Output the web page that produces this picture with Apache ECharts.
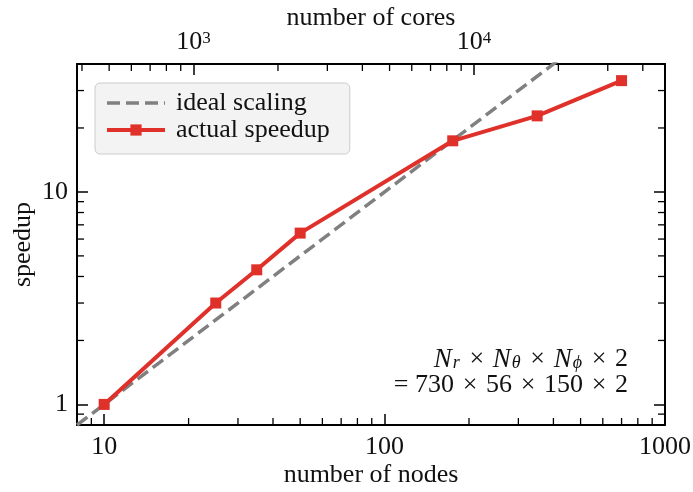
<!DOCTYPE html>
<html>
<head>
<meta charset="utf-8">
<script src="https://cdn.jsdelivr.net/npm/echarts@6/dist/echarts.min.js"></script>
<style>html,body{margin:0;padding:0;background:#fff}#c{width:693px;height:492px}</style>
</head>
<body>
<div id="c"></div>
<script>
// ---- data ----
const nodes = [10, 25, 35, 50, 175, 350, 700];
const speedup = [1.0, 3.0, 4.3, 6.4, 17.4, 22.8, 33.4];
const idealNodes = [8, 1000];
const idealSpeedup = [0.8, 100];
const coresPerNode = 48;

// axis ranges and ticks
const xMin = 8, xMax = 1000;
const yMin = 0.8, yMax = 40;
const xMajor = [10, 100, 1000];
const yMajor = [1, 10];
const coresMajor = [1000, 10000];
const xMinor = [9, 20, 30, 40, 50, 60, 70, 80, 90, 200, 300, 400, 500, 600, 700, 800, 900];
const yMinor = [0.9, 2, 3, 4, 5, 6, 7, 8, 9, 20, 30];
const coresMinor = [400, 500, 600, 700, 800, 900, 2000, 3000, 4000, 5000, 6000, 7000, 8000, 9000, 20000, 30000, 40000];

const FONT = 'Liberation Serif';
const FS = 26;
const RED = '#e0302a';
const GRAY = '#808080';
const TXT = '#111';
const SP = '\u2004';

const chart = echarts.init(document.getElementById('c'), null, {renderer: 'canvas'});

function minorTickSeries(name, data, xi, yi, fn) {
  return {
    type: 'custom', name: name, xAxisIndex: xi, yAxisIndex: yi, silent: true, z: 5,
    clip: false,
    data: data,
    renderItem: function (params, api) { return fn(api); }
  };
}
const MINLEN = 7;
const tickStyle = {stroke: '#000', lineWidth: 1.3};

const option = {
  animation: false,
  backgroundColor: '#fff',
  textStyle: {fontFamily: FONT},
  grid: {left: 77, right: 28, top: 64, bottom: 67, containLabel: false, outerBoundsMode: 'none'},
  legend: {
    left: 95, top: 83, orient: 'vertical',
    data: [
      {name: 'ideal scaling', itemStyle: {opacity: 0}, lineStyle: {type: [13, 6], width: 3.5, color: GRAY}},
      {name: 'actual speedup', lineStyle: {width: 4, color: RED}}
    ],
    backgroundColor: '#f3f3f3', borderColor: '#cccccc', borderWidth: 1, borderRadius: 5,
    padding: [7, 20, 11, 10], itemGap: 1,
    itemWidth: 58, itemHeight: 14,
    textStyle: {fontFamily: FONT, fontSize: FS, color: TXT, lineHeight: 25, padding: [0, 0, 0, 6]}
  },
  xAxis: [
    {
      type: 'log', min: xMin, max: xMax, position: 'bottom',
      name: 'number of nodes', nameLocation: 'middle', nameGap: 37, nameMoveOverlap: false,
      nameTextStyle: {fontFamily: FONT, fontSize: FS, color: TXT},
      axisLine: {show: true, onZero: false, lineStyle: {color: '#000', width: 2}},
      axisTick: {show: true, inside: true, length: 11, customValues: xMajor, lineStyle: {color: '#000', width: 1.5}},
      axisLabel: {customValues: xMajor, fontFamily: FONT, fontSize: FS, color: TXT, margin: 9, formatter: v => String(v)},
      splitLine: {show: false}, minorTick: {show: false}
    },
    {
      type: 'log', min: xMin * coresPerNode, max: xMax * coresPerNode, position: 'top',
      name: 'number of cores', nameLocation: 'middle', nameGap: 33, nameMoveOverlap: false,
      nameTextStyle: {fontFamily: FONT, fontSize: FS, color: TXT},
      axisLine: {show: true, onZero: false, lineStyle: {color: '#000', width: 2}},
      axisTick: {show: true, inside: true, length: 11, customValues: coresMajor, lineStyle: {color: '#000', width: 1.5}},
      axisLabel: {
        customValues: coresMajor, margin: 10, color: TXT, fontFamily: FONT, fontSize: FS,
        formatter: v => '{b|10}{sup|' + Math.round(Math.log10(v)) + '}',
        rich: {
          b: {fontFamily: FONT, fontSize: FS, lineHeight: 24, color: TXT},
          sup: {fontFamily: FONT, fontSize: 17, verticalAlign: 'top', lineHeight: 14, color: TXT}
        }
      },
      splitLine: {show: false}
    }
  ],
  yAxis: [
    {
      type: 'log', min: yMin, max: yMax, position: 'left',
      name: 'speedup', nameLocation: 'middle', nameGap: 41, nameRotate: 90, nameMoveOverlap: false,
      nameTextStyle: {fontFamily: FONT, fontSize: FS, color: TXT},
      axisLine: {show: true, onZero: false, lineStyle: {color: '#000', width: 2}},
      axisTick: {show: true, inside: true, length: 11, customValues: yMajor, lineStyle: {color: '#000', width: 1.5}},
      axisLabel: {customValues: yMajor, fontFamily: FONT, fontSize: FS, color: TXT, margin: 9, formatter: v => String(v)},
      splitLine: {show: false}
    },
    {
      type: 'log', min: yMin, max: yMax, position: 'right',
      axisLine: {show: true, onZero: false, lineStyle: {color: '#000', width: 2}},
      axisTick: {show: true, inside: true, length: 11, customValues: yMajor, lineStyle: {color: '#000', width: 1.5}},
      axisLabel: {show: false},
      splitLine: {show: false}
    }
  ],
  graphic: [
    {
      type: 'text', right: 65, top: 346, z: 10,
      style: {
        text: '{i|N}{sub|r}{t|' + SP + '×' + SP + '}{i|N}{sub|θ}{t|' + SP + '×' + SP + '}{i|N}{sub|ϕ}{t|' + SP + '×' + SP + '2}',
        fontFamily: FONT, fontSize: FS, fill: TXT,
        rich: {
          t: {fontFamily: FONT, fontSize: FS, lineHeight: 26, color: TXT},
          i: {fontFamily: FONT, fontSize: 27, fontStyle: 'italic', lineHeight: 26, color: TXT},
          sub: {fontFamily: FONT, fontSize: 18, fontStyle: 'italic', verticalAlign: 'bottom', lineHeight: 9, color: TXT, padding: [0, 1, 0, 1]}
        }
      }
    },
    {
      type: 'text', right: 65, top: 372, z: 10,
      style: {
        text: '= 730' + SP + '×' + SP + '56' + SP + '×' + SP + '150' + SP + '×' + SP + '2',
        fontFamily: FONT, fontSize: FS, fill: TXT
      }
    }
  ],
  series: [
    {
      name: 'ideal scaling', type: 'line', xAxisIndex: 0, yAxisIndex: 0,
      data: idealNodes.map((n, i) => [n, idealSpeedup[i]]),
      symbol: 'none', clip: true, z: 2,
      lineStyle: {color: GRAY, width: 3.5, type: [13, 6]},
      itemStyle: {color: GRAY}
    },
    {
      name: 'actual speedup', type: 'line', xAxisIndex: 0, yAxisIndex: 0,
      data: nodes.map((n, i) => [n, speedup[i]]),
      symbol: 'rect', symbolSize: 11, showSymbol: true, z: 3,
      lineStyle: {color: RED, width: 4},
      itemStyle: {color: RED}
    },
    minorTickSeries('mb', xMinor.map(v => [v, yMin]), 0, 0, api => {
      const p = api.coord([api.value(0), yMin]);
      return {type: 'line', shape: {x1: p[0], y1: p[1], x2: p[0], y2: p[1] - MINLEN}, style: tickStyle};
    }),
    minorTickSeries('mt', coresMinor.map(v => [v, yMax]), 1, 0, api => {
      const p = api.coord([api.value(0), yMax]);
      return {type: 'line', shape: {x1: p[0], y1: p[1], x2: p[0], y2: p[1] + MINLEN}, style: tickStyle};
    }),
    minorTickSeries('ml', yMinor.map(v => [xMin, v]), 0, 0, api => {
      const p = api.coord([xMin, api.value(1)]);
      return {type: 'line', shape: {x1: p[0], y1: p[1], x2: p[0] + MINLEN, y2: p[1]}, style: tickStyle};
    }),
    minorTickSeries('mr', yMinor.map(v => [xMax, v]), 0, 0, api => {
      const p = api.coord([xMax, api.value(1)]);
      return {type: 'line', shape: {x1: p[0], y1: p[1], x2: p[0] - MINLEN, y2: p[1]}, style: tickStyle};
    })
  ]
};
chart.setOption(option);
</script>
</body>
</html>
